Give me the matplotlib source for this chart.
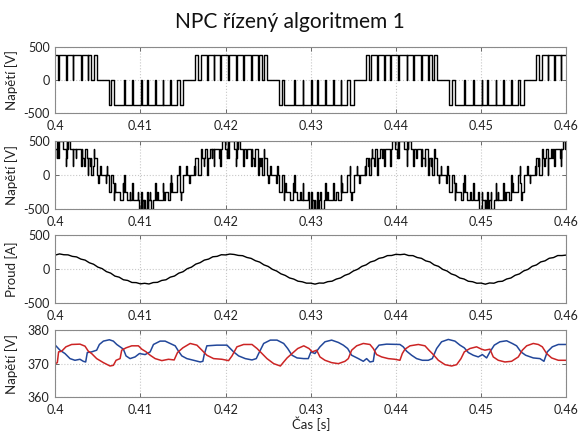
import numpy as np
import matplotlib.pyplot as plt

plt.rcParams['font.family'] = ['Lato', 'DejaVu Sans']

title = 'NPC řízený algoritmem 1'
x_ticks = [0.4, 0.41, 0.42, 0.43, 0.44, 0.45, 0.46]
x_tick_labels = ['0.4', '0.41', '0.42', '0.43', '0.44', '0.45', '0.46']

## Phase-leg (NPC) switching pattern
## offsets in ms relative to the centre of each half-wave, level in units of Vdc/2
v_leg = 375.0
period_ms = 20.0
pos_center0 = 400.65
pos_half = [(-4.2, 1), (-3.85, 0), (-3.55, 1), (-2.85, 0), (-2.77, 1), (-2.05, 0), (-1.97, 1),
            (-1.3, 0), (-1.22, 1), (-0.35, 0), (-0.27, 1), (0.6, 0), (0.68, 1), (1.4, 0), (1.48, 1),
            (2.35, 0), (2.43, 1), (3.15, 0), (3.23, 1), (3.6, 0), (3.85, 1), (4.2, 0)]
neg_half = [(-4.4, -1), (-4.08, 0), (-3.77, -1), (-2.6, 0), (-2.52, -1), (-1.6, 0), (-1.52, -1),
            (-0.6, 0), (-0.52, -1), (0.1, 0), (0.18, -1), (1.05, 0), (1.13, -1), (1.95, 0),
            (2.03, -1), (2.85, 0), (2.93, -1), (3.63, 0), (3.94, -1), (4.4, 0)]

## Load current [A], sampled every 0.5 ms from 400 ms
i_load = [205, 222, 210, 208, 186, 178, 146, 131, 92, 70, 28, 6, -38, -60, -104, -120, -158, -168,
          -198, -200, -218, -210, -220, -199, -196, -168, -158, -120, -103, -61, -40, 5, 28, 72, 93,
          131, 146, 180, 186, 210,
          207, 220, 214, 200, 196, 170, 156, 122, 102, 61, 38, -5, -30, -71, -94, -131, -148, -179,
          -188, -208, -208, -222, -206, -208, -186, -179, -148, -131, -93, -71, -29, -4, 39, 61, 103,
          121, 157, 169, 197, 199,
          216, 211, 218, 198, 197, 169, 157, 120, 104, 60, 39, -6, -29, -72, -93, -132, -147, -180,
          -187, -209, -207, -223, -205, -209, -185, -180, -147, -132, -92, -72, -28, -6, 40, 60, 104,
          120, 158, 168, 198, 198,
          205]

## DC-link capacitor voltages [V]
blue_t = [400.0, 400.55, 401.14, 401.73, 402.31, 402.9, 403.29, 403.57, 403.76, 404.27, 404.86, 405.18,
          405.65, 406.35, 406.82, 407.22, 407.61, 408.0, 408.31, 408.78, 409.37, 409.88, 410.55, 411.14,
          411.53, 412.31, 412.9, 413.49, 414.08, 414.47, 414.86, 415.45, 416.24, 417.02, 417.33, 417.49,
          417.8, 418.98, 420.16, 420.55, 420.94, 421.53, 422.31, 423.1, 423.6, 423.88, 424.47, 425.25,
          426.04, 426.82, 427.29, 427.8, 428.39, 429.18, 429.71, 430.02, 430.49, 431.08, 431.67, 432.45,
          433.24, 433.82, 434.33, 434.8, 435.59, 436.17, 436.56, 436.95, 437.34, 437.54, 438.01, 438.91,
          440.47, 440.86, 441.26, 441.84, 442.43, 443.1, 443.8, 444.27, 444.78, 445.36, 446.15, 446.93,
          447.52, 448.03, 448.5, 449.08, 449.67, 450.15, 450.65, 451.04, 451.55, 452.21, 453.0, 453.66,
          454.17, 454.68, 455.23, 456.13, 456.91, 457.38, 457.77, 458.36, 459.07, 460.0]
blue_v = [375.5, 374.0, 373.0, 371.5, 371.0, 371.3, 370.7, 370.5, 373.3, 373.5, 374.0, 375.7,
          376.7, 377.1, 376.7, 375.7, 375.0, 374.3, 372.3, 371.5, 372.0, 373.0, 372.7, 373.5,
          375.7, 376.7, 376.7, 376.0, 375.3, 373.7, 372.3, 371.5, 371.0, 370.5, 370.7, 372.7,
          375.3, 375.5, 375.5, 374.5, 373.5, 372.3, 371.5, 371.1, 371.5, 373.0, 376.0, 377.0,
          377.0, 376.0, 374.5, 372.5, 371.7, 371.5, 371.5, 373.5, 373.0, 375.0, 376.5, 377.0,
          376.3, 375.5, 374.5, 372.5, 371.5, 370.7, 371.5, 370.5, 370.7, 374.0, 375.5, 375.8,
          375.7, 375.0, 373.7, 372.5, 371.5, 371.0, 371.0, 371.5, 374.5, 376.5, 377.2, 376.7,
          375.5, 374.7, 373.3, 372.5, 372.0, 372.7, 371.7, 373.5, 375.5, 376.5, 376.8, 376.0,
          375.3, 373.5, 372.5, 371.7, 371.5, 370.7, 373.5, 375.0, 375.7, 375.7]
red_t = [400.0, 400.24, 400.39, 400.75, 401.25, 401.92, 402.9, 403.49, 403.88, 404.27, 404.86, 405.65,
         406.43, 406.82, 407.14, 407.61, 407.8, 408.31, 408.98, 409.76, 410.16, 410.67, 411.14, 411.73,
         412.51, 413.29, 413.96, 414.35, 414.98, 415.84, 416.63, 417.22, 417.8, 418.59, 419.57, 420.35,
         420.75, 421.33, 422.12, 423.1, 423.69, 424.16, 424.86, 425.65, 426.43, 426.82, 427.22, 427.8,
         428.47, 429.18, 429.79, 430.18, 430.69, 431.08, 431.67, 432.45, 433.24, 434.02, 434.41, 434.8,
         435.39, 436.17, 436.95, 437.34, 437.73, 438.32, 439.1, 439.88, 440.47, 440.75, 441.06, 441.65,
         442.63, 443.41, 443.88, 444.39, 444.98, 445.76, 446.54, 447.13, 447.64, 448.03, 448.69, 449.47,
         450.05, 450.45, 451.04, 451.43, 452.02, 452.8, 453.58, 454.37, 454.84, 455.35, 456.13, 456.72,
         457.19, 457.7, 458.28, 459.07, 460.0]
red_v = [370.0, 370.3, 373.5, 373.7, 375.0, 375.7, 375.8, 375.2, 373.7, 373.0, 371.5, 370.3,
         369.3, 369.5, 371.0, 371.5, 374.0, 374.7, 375.3, 375.3, 374.3, 373.5, 372.5, 371.5,
         370.9, 371.3, 371.1, 373.3, 374.7, 376.0, 375.5, 374.0, 372.5, 371.5, 371.3, 370.9,
         372.3, 375.0, 375.7, 375.7, 374.5, 373.3, 371.5, 370.0, 369.3, 370.5, 371.7, 373.0,
         374.5, 375.3, 374.5, 373.5, 374.0, 372.0, 371.0, 370.3, 370.0, 370.7, 371.5, 374.0,
         375.3, 376.0, 375.7, 374.5, 372.7, 372.0, 371.5, 371.3, 371.0, 373.0, 374.3, 375.3,
         375.7, 375.3, 374.0, 372.7, 371.0, 369.7, 369.3, 369.7, 371.5, 373.5, 374.5, 375.0,
         374.3, 374.0, 374.3, 372.0, 371.0, 370.5, 370.7, 372.0, 374.0, 375.3, 376.0, 375.7,
         375.0, 373.0, 371.7, 371.0, 371.0]


def leg_edges(shift):
    """Switching edges (ms) and voltages of one NPC leg, delayed by shift ms"""
    ts, vs = [], []
    for k in range(-2, 5):
        c = pos_center0 + k * period_ms + shift
        for off, lev in pos_half:
            ts.append(c + off)
            vs.append(lev)
        for off, lev in neg_half:
            ts.append(c + period_ms / 2 + off)
            vs.append(lev)
    return np.array(ts), np.array(vs) * v_leg


def eval_steps(edges, t):
    ts, vs = edges
    idx = np.searchsorted(ts, t, side='right') - 1
    return vs[idx]


leg_a = leg_edges(0.0)
leg_b = leg_edges(period_ms / 3)
leg_c = leg_edges(2 * period_ms / 3)

t_sw = np.concatenate([leg_a[0], leg_b[0], leg_c[0], [400.0, 460.0]])
t_sw = np.unique(t_sw[(t_sw >= 400.0) & (t_sw <= 460.0)])
va = eval_steps(leg_a, t_sw)
vb = eval_steps(leg_b, t_sw)
vc = eval_steps(leg_c, t_sw)
v_phase = (2 * va - vb - vc) / 3.0

t_i = np.arange(len(i_load)) * 0.5 + 400.0

fig = plt.figure(figsize=(5.8, 4.34), dpi=100)
rects = [(0.0953, 0.7396, 0.881, 0.152),
         (0.0953, 0.5191, 0.881, 0.156),
         (0.0953, 0.3018, 0.881, 0.1567),
         (0.0953, 0.0846, 0.881, 0.155)]
axs = [fig.add_axes(r) for r in rects]

lw = 1.0
axs[0].plot(t_sw / 1000, va, color='black', lw=lw, drawstyle='steps-post')
axs[1].plot(t_sw / 1000, v_phase, color='black', lw=lw, drawstyle='steps-post')
axs[2].plot(t_i / 1000, i_load, color='black', lw=lw)
axs[3].plot(np.array(blue_t) / 1000, blue_v, color='#22479a', lw=1.1)
axs[3].plot(np.array(red_t) / 1000, red_v, color='#cc2424', lw=1.1)

ylabels = ['Napětí [V]', 'Napětí [V]', 'Proud [A]', 'Napětí [V]']
for n, ax in enumerate(axs):
    ax.set_xlim(0.4, 0.46)
    if n < 3:
        ax.set_ylim(-500, 500)
        ax.set_yticks([-500, 0, 500])
        ax.set_yticklabels(['-500', '0', '500'])
    else:
        ax.set_ylim(360, 380)
        ax.set_yticks([360, 370, 380])
        ax.set_yticklabels(['360', '370', '380'])
    ax.set_xticks(x_ticks)
    ax.set_xticklabels(x_tick_labels)
    ax.grid(True, color='#c8c8c8', linestyle=':', linewidth=0.8)
    ax.tick_params(direction='in', top=True, right=True, length=3, width=0.6,
                   color='#555555', labelsize=9, labelcolor='#222222')
    ax.tick_params(axis='x', pad=5)
    ax.tick_params(axis='y', pad=4)
    for s in ax.spines.values():
        s.set_color('#8a8a8a')
        s.set_linewidth(0.8)
    ax.set_ylabel(ylabels[n], fontsize=9.5, color='#222222')
    ax.yaxis.set_label_coords(-0.072, 0.5)

axs[3].set_xlabel('Čas [s]', fontsize=9.5, color='#222222', labelpad=0)
fig.text(0.5, 0.95, title, ha='center', va='center', fontsize=15, color='#111111')

fig.savefig('out.png', dpi=100)
